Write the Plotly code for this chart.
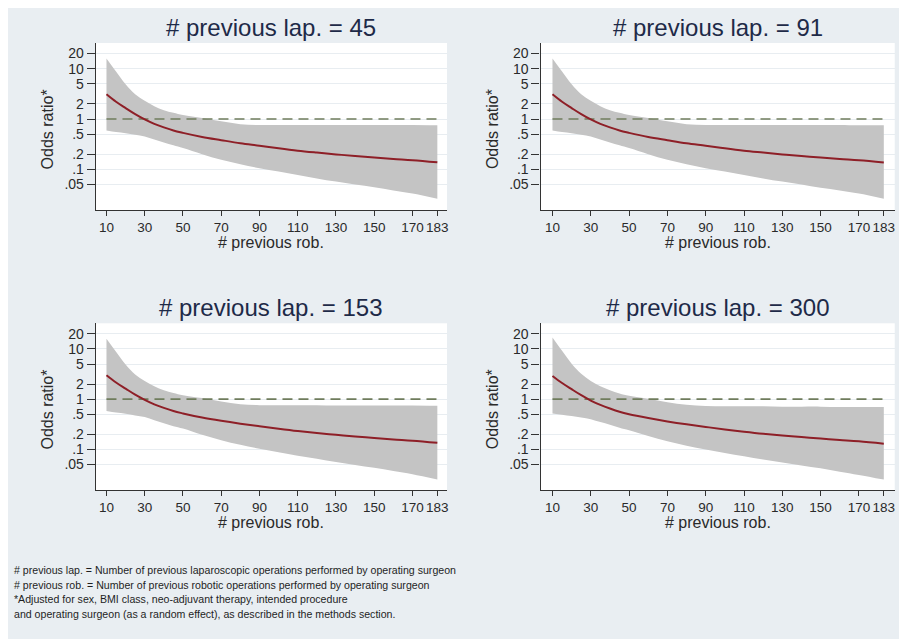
import plotly.graph_objects as go

# The page body has an 8px default margin, so the figure is offset by 8px.
OFF = 8
W, H = 907 - OFF, 639 - OFF

# ---------------- data ----------------
prev_rob = [10, 15, 20, 25, 30, 35, 40, 45, 50, 60, 70, 80, 90, 100, 110, 120, 130, 140, 150, 160, 170, 183]

panel_titles = ["# previous lap. = 45", "# previous lap. = 91", "# previous lap. = 153", "# previous lap. = 300"]

or_45 = [3.1, 2.2, 1.65, 1.25, 0.98, 0.80, 0.68, 0.59, 0.53, 0.44, 0.38, 0.33, 0.295, 0.262, 0.235, 0.215, 0.198, 0.184, 0.172, 0.161, 0.152, 0.138]
hi_45 = [16.0, 8.8, 4.9, 3.1, 2.3, 1.8, 1.5, 1.33, 1.2, 1.05, 0.9, 0.79, 0.76, 0.76, 0.76, 0.76, 0.76, 0.76, 0.76, 0.76, 0.76, 0.75]
lo_45 = [0.59, 0.55, 0.52, 0.485, 0.45, 0.39, 0.34, 0.30, 0.265, 0.20, 0.155, 0.126, 0.105, 0.09, 0.077, 0.066, 0.057, 0.050, 0.044, 0.038, 0.033, 0.026]

or_91 = [3.1, 2.2, 1.65, 1.25, 0.98, 0.80, 0.68, 0.59, 0.53, 0.44, 0.38, 0.33, 0.295, 0.262, 0.235, 0.215, 0.197, 0.183, 0.171, 0.160, 0.151, 0.137]
hi_91 = [16.0, 8.8, 4.9, 3.1, 2.3, 1.8, 1.5, 1.33, 1.2, 1.05, 0.9, 0.79, 0.76, 0.76, 0.76, 0.76, 0.76, 0.76, 0.76, 0.76, 0.75, 0.75]
lo_91 = [0.59, 0.55, 0.52, 0.485, 0.45, 0.39, 0.34, 0.30, 0.265, 0.20, 0.155, 0.126, 0.105, 0.09, 0.077, 0.066, 0.057, 0.050, 0.043, 0.038, 0.033, 0.026]

or_153 = [3.0, 2.15, 1.62, 1.23, 0.97, 0.79, 0.67, 0.58, 0.52, 0.43, 0.37, 0.325, 0.29, 0.258, 0.232, 0.212, 0.195, 0.181, 0.169, 0.158, 0.149, 0.135]
hi_153 = [16.0, 8.8, 4.9, 3.1, 2.3, 1.8, 1.5, 1.33, 1.2, 1.05, 0.9, 0.79, 0.76, 0.76, 0.76, 0.76, 0.75, 0.75, 0.75, 0.75, 0.75, 0.74]
lo_153 = [0.58, 0.54, 0.51, 0.475, 0.44, 0.38, 0.33, 0.29, 0.26, 0.195, 0.152, 0.123, 0.103, 0.088, 0.075, 0.065, 0.056, 0.049, 0.043, 0.037, 0.032, 0.025]

or_300 = [2.9, 2.1, 1.58, 1.2, 0.94, 0.77, 0.65, 0.56, 0.50, 0.42, 0.36, 0.315, 0.28, 0.25, 0.225, 0.205, 0.19, 0.176, 0.164, 0.154, 0.145, 0.13]
hi_300 = [17.0, 9.2, 5.1, 3.2, 2.3, 1.8, 1.5, 1.3, 1.17, 1.02, 0.87, 0.77, 0.73, 0.72, 0.72, 0.72, 0.71, 0.71, 0.71, 0.70, 0.70, 0.70]
lo_300 = [0.52, 0.49, 0.46, 0.43, 0.40, 0.35, 0.31, 0.27, 0.24, 0.185, 0.145, 0.118, 0.099, 0.085, 0.073, 0.063, 0.055, 0.048, 0.042, 0.036, 0.031, 0.025]

reference_or = [1.0] * len(prev_rob)

x_tickvals = [10, 30, 50, 70, 90, 110, 130, 150, 170, 183]
y_tickvals = [0.05, 0.1, 0.2, 0.5, 1, 2, 5, 10, 20]
y_ticktext = [".05", ".1", ".2", ".5", "1", "2", "5", "10", "20"]

footnotes = [
    "# previous lap. = Number of previous laparoscopic operations performed by operating surgeon",
    "# previous rob. = Number of previous robotic operations performed by operating surgeon",
    "*Adjusted for sex, BMI class, neo-adjuvant therapy, intended procedure",
    "and operating surgeon (as a random effect), as described in the methods section.",
]

# ---------------- styling / layout ----------------
BG = "#e9eef2"
BAND = "#c4c4c4"
RED = "#8e1f27"
DASH = "#6f7c5c"
TITLE_C = "#1e2a48"
TXT = "#2a2a2a"
FONT = "Liberation Sans, Arial, sans-serif"

def px_x(p):
    return (p - OFF) / W

def px_y(p):
    return 1 - (p - OFF) / H

# plot areas in screenshot pixels: (left, right, top, bottom), x-range
panels = [
    dict(l=96, r=448, t=43, b=210, xr=[4.42, 188.06]),
    dict(l=541.7, r=896.7, t=43, b=210, xr=[3.75, 188.7]),
    dict(l=96, r=448, t=323.3, b=490, xr=[4.42, 188.06]),
    dict(l=541.7, r=896.7, t=323.3, b=490, xr=[3.75, 188.7]),
]
series = [(or_45, hi_45, lo_45), (or_91, hi_91, lo_91), (or_153, hi_153, lo_153), (or_300, hi_300, lo_300)]

fig = go.Figure()
annotations = []
layout_axes = {}

for i, (pn, (orv, hiv, lov)) in enumerate(zip(panels, series)):
    k = "" if i == 0 else str(i + 1)
    xa, ya = "x" + k, "y" + k
    # CI band
    fig.add_trace(go.Scatter(x=prev_rob, y=hiv, mode="lines", line=dict(width=0, color=BAND, shape="spline"),
                             xaxis=xa, yaxis=ya, showlegend=False, hoverinfo="skip"))
    fig.add_trace(go.Scatter(x=prev_rob, y=lov, mode="lines", line=dict(width=0, color=BAND, shape="spline"),
                             fill="tonexty", fillcolor=BAND,
                             xaxis=xa, yaxis=ya, showlegend=False, hoverinfo="skip"))
    # reference line at OR = 1
    fig.add_trace(go.Scatter(x=prev_rob, y=reference_or, mode="lines",
                             line=dict(color=DASH, width=1.6, dash="10px,6px"),
                             xaxis=xa, yaxis=ya, showlegend=False))
    # estimate
    fig.add_trace(go.Scatter(x=prev_rob, y=orv, mode="lines", line=dict(color=RED, width=2, shape="spline"),
                             xaxis=xa, yaxis=ya, showlegend=False))

    layout_axes["xaxis" + k] = dict(
        domain=[px_x(pn["l"]), px_x(pn["r"])], anchor=ya, range=pn["xr"],
        tickvals=x_tickvals, tickangle=0, ticks="outside", ticklen=5, tickwidth=1.2, tickcolor="#333",
        showline=True, linecolor="#333", linewidth=1.2, showgrid=False, zeroline=False,
        tickfont=dict(family=FONT, size=13.5, color=TXT),
    )
    layout_axes["yaxis" + k] = dict(
        domain=[px_y(pn["b"]), px_y(pn["t"])], anchor=xa, type="log", range=[-1.809, 1.511],
        tickvals=y_tickvals, ticktext=y_ticktext, ticks="outside", ticklen=8, tickwidth=1.2,
        tickcolor="#333", showline=True, linecolor="#333", linewidth=1.2,
        showgrid=True, gridcolor="#e8edf1", gridwidth=1, zeroline=False,
        tickfont=dict(family=FONT, size=14, color=TXT),
    )
    cx = (pn["l"] + pn["r"]) / 2
    annotations.append(dict(text=panel_titles[i], x=px_x(cx), y=px_y(pn["t"] - 16),
                            xref="paper", yref="paper", xanchor="center", yanchor="middle",
                            showarrow=False, font=dict(family=FONT, size=24, color=TITLE_C)))
    annotations.append(dict(text="# previous rob.", x=px_x(cx), y=px_y(pn["b"] + 32),
                            xref="paper", yref="paper", xanchor="center", yanchor="middle",
                            showarrow=False, font=dict(family=FONT, size=16, color=TXT)))
    annotations.append(dict(text="Odds ratio*", x=px_x(pn["l"] - 48), y=px_y((pn["t"] + pn["b"]) / 2 + 3),
                            xref="paper", yref="paper", xanchor="center", yanchor="middle",
                            textangle=-90, showarrow=False, font=dict(family=FONT, size=16, color=TXT)))

foot_y = [570, 584.5, 599, 613.5]
for line, yy in zip(footnotes, foot_y):
    annotations.append(dict(text=line, x=px_x(12), y=px_y(yy), xref="paper", yref="paper",
                            xanchor="left", yanchor="middle", showarrow=False,
                            font=dict(family=FONT, size=10.6, color="#1e1e1e")))

fig.update_layout(
    width=W, height=H, margin=dict(l=0, r=0, t=0, b=0),
    paper_bgcolor=BG, plot_bgcolor="white",
    annotations=annotations,
    **layout_axes,
)

fig.write_html("out.html")
